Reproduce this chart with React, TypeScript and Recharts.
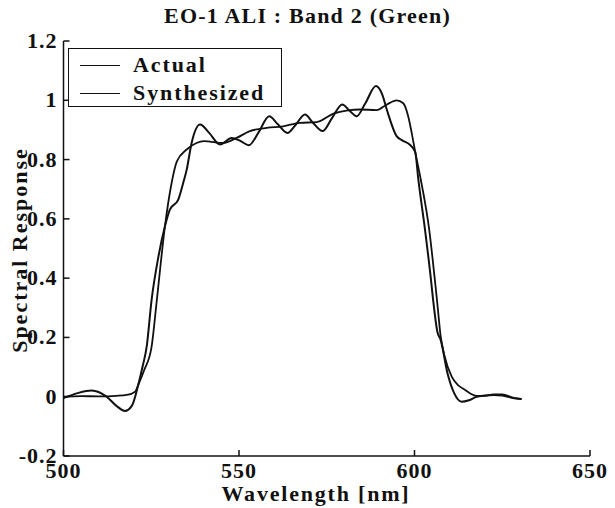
import React from "react";
import { LineChart, Line, XAxis, YAxis, Legend } from "recharts";

// wavelength (nm) / response
const actualWl = [500, 505, 510, 515, 518, 520.4, 521.3, 523, 525.1, 526.6, 528.9, 530.8, 532.3, 535.1, 537.9, 540, 545.5, 549.3, 553.1, 557.9, 562.6, 567.3, 572.1, 576.9, 581, 584.5, 589.2, 592, 594.9, 596.8, 598.2, 599.2, 600.2, 601.8, 604.2, 605.8, 606.4, 607.5, 608.5, 610.6, 612.5, 614.4, 616, 617.7, 620, 622.5, 625, 628, 630.5];
const actualVal = [0, 0.002, 0.001, 0.003, 0.006, 0.017, 0.04, 0.09, 0.169, 0.327, 0.575, 0.721, 0.794, 0.834, 0.856, 0.862, 0.856, 0.873, 0.896, 0.907, 0.912, 0.924, 0.926, 0.955, 0.966, 0.969, 0.967, 0.985, 1.0, 0.99, 0.946, 0.89, 0.826, 0.732, 0.563, 0.394, 0.327, 0.2, 0.14, 0.068, 0.038, 0.023, 0.01, 0.003, 0.003, 0.008, 0.008, -0.003, -0.008];

const synthWl = [500, 504, 508, 512.3, 515, 517.5, 519.5, 521.3, 522.5, 523.7, 525.1, 527, 528.9, 530.3, 532.7, 534.1, 535.1, 536.5, 538.9, 541.5, 544.6, 547.9, 550.5, 552.8, 555.5, 558.6, 561, 563.8, 566, 568.8, 571, 573.8, 576.5, 579.4, 581.5, 583.5, 586, 589, 590.8, 592.1, 594.9, 596.5, 598.7, 600.2, 601.1, 603, 604.7, 605.3, 606.5, 607.5, 609.4, 611.3, 613.4, 615.5, 617.7, 620, 622.5, 625, 628, 630.5];
const synthVal = [-0.005, 0.012, 0.021, 0, -0.03, -0.048, -0.03, 0.04, 0.1, 0.169, 0.327, 0.47, 0.575, 0.631, 0.665, 0.721, 0.766, 0.856, 0.918, 0.89, 0.851, 0.873, 0.862, 0.848, 0.89, 0.946, 0.92, 0.89, 0.915, 0.952, 0.925, 0.896, 0.94, 0.986, 0.965, 0.946, 0.99, 1.048, 1.02, 0.969, 0.879, 0.865, 0.85, 0.826, 0.732, 0.563, 0.394, 0.327, 0.22, 0.19, 0.079, 0.012, -0.017, -0.012, 0, 0.004, 0.006, 0.004, -0.004, -0.008];

const xTicks = [500, 550, 600, 650];
const yTicks = [-0.2, 0, 0.2, 0.4, 0.6, 0.8, 1, 1.2];

const actual = actualWl.map((wl, i) => ({ wl, v: actualVal[i] }));
const synth = synthWl.map((wl, i) => ({ wl, v: synthVal[i] }));

const FONT = "'Liberation Serif', 'Times New Roman', serif";
const INK = "#111";
const TICK_LEN = 6;

const tickText = { fontFamily: FONT, fontWeight: 700, fontSize: 22, fill: INK, letterSpacing: 1 };

const BottomTick = ({ x, y, payload }: any) => (
  <g>
    <line x1={x} y1={y} x2={x} y2={y - TICK_LEN} stroke={INK} strokeWidth={1.5} />
    <text x={x} y={y + 22} textAnchor="middle" {...tickText}>
      {payload.value}
    </text>
  </g>
);

const LeftTick = ({ x, y, payload }: any) => (
  <g>
    <line x1={x} y1={y} x2={x + TICK_LEN} y2={y} stroke={INK} strokeWidth={1.5} />
    <text x={x - 6} y={y + 7} textAnchor="end" {...tickText}>
      {String(payload.value)}
    </text>
  </g>
);

const TopTick = ({ x, y }: any) => (
  <line x1={x} y1={y} x2={x} y2={y + TICK_LEN} stroke={INK} strokeWidth={1.5} />
);

const RightTick = ({ x, y }: any) => (
  <line x1={x} y1={y} x2={x - TICK_LEN} y2={y} stroke={INK} strokeWidth={1.5} />
);

const legendItems = ["Actual", "Synthesized"];

const renderLegend = () => (
  <div
    style={{
      border: `1.5px solid ${INK}`,
      background: "#fff",
      width: 214,
      height: 59,
      boxSizing: "border-box",
      padding: "2px 0 0 11px",
      fontFamily: FONT,
      fontWeight: 700,
      fontSize: 22,
      color: INK,
      lineHeight: "28px",
    }}
  >
    {legendItems.map((name) => (
      <div key={name} style={{ display: "flex", alignItems: "center" }}>
        <span style={{ display: "inline-block", width: 40, borderTop: `1.5px solid ${INK}`, marginRight: 13 }} />
        <span style={{ letterSpacing: 1.9 }}>{name}</span>
      </div>
    ))}
  </div>
);

const labelStyle: React.CSSProperties = {
  position: "absolute",
  whiteSpace: "nowrap",
  fontFamily: FONT,
  fontWeight: 700,
  color: INK,
};

export default function App() {
  return (
    <div style={{ position: "absolute", left: 0, top: 0, width: 615, height: 508, background: "#fff" }}>
      <div style={{ ...labelStyle, top: 3, left: 0, width: 615, textAlign: "center", fontSize: 22, letterSpacing: 1.2 }}>
        EO-1 ALI : Band 2 (Green)
      </div>
      <div
        style={{
          ...labelStyle,
          left: 20,
          top: 250,
          transform: "translate(-50%, -50%) rotate(-90deg)",
          fontSize: 22,
          letterSpacing: 2,
        }}
      >
        Spectral Response
      </div>
      <div
        style={{
          ...labelStyle,
          left: 316,
          top: 494,
          transform: "translate(-50%, -50%)",
          fontSize: 22,
          letterSpacing: 1.8,
        }}
      >
        Wavelength [nm]
      </div>
      <LineChart
        width={615}
        height={508}
        margin={{ top: 41, right: 25, bottom: 0, left: 0 }}
        style={{ position: "absolute", left: 0, top: 0 }}
      >
        <XAxis
          dataKey="wl"
          type="number"
          domain={[500, 650]}
          ticks={xTicks}
          height={52}
          tickSize={0}
          tickMargin={0}
          tickLine={false}
          axisLine={{ stroke: INK, strokeWidth: 1.5 }}
          tick={<BottomTick />}
          allowDataOverflow
        />
        <XAxis
          xAxisId="top"
          orientation="top"
          dataKey="wl"
          type="number"
          domain={[500, 650]}
          ticks={xTicks}
          height={0}
          tickSize={0}
          tickMargin={0}
          tickLine={false}
          axisLine={{ stroke: INK, strokeWidth: 1.5 }}
          tick={<TopTick />}
        />
        <YAxis
          type="number"
          domain={[-0.2, 1.2]}
          ticks={yTicks}
          width={63.5}
          tickSize={0}
          tickMargin={0}
          tickLine={false}
          axisLine={{ stroke: INK, strokeWidth: 1.5 }}
          tick={<LeftTick />}
          allowDataOverflow
        />
        <YAxis
          yAxisId="right"
          orientation="right"
          type="number"
          domain={[-0.2, 1.2]}
          ticks={yTicks}
          width={0}
          tickSize={0}
          tickMargin={0}
          tickLine={false}
          axisLine={{ stroke: INK, strokeWidth: 1.5 }}
          tick={<RightTick />}
        />
        <Legend
          layout="horizontal"
          verticalAlign="middle"
          align="center"
          wrapperStyle={{ top: 48, left: 68, width: "auto" }}
          content={renderLegend}
        />
        <Line
          data={actual}
          dataKey="v"
          name="Actual"
          type="monotone"
          stroke={INK}
          strokeWidth={1.8}
          dot={false}
          isAnimationActive={false}
        />
        <Line
          data={synth}
          dataKey="v"
          name="Synthesized"
          type="monotone"
          stroke={INK}
          strokeWidth={2}
          dot={false}
          isAnimationActive={false}
        />
      </LineChart>
    </div>
  );
}
